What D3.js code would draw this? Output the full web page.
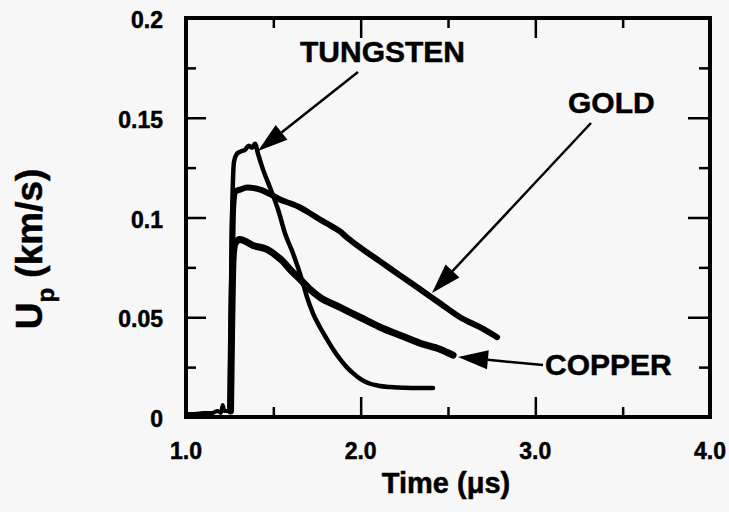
<!DOCTYPE html>
<html>
<head>
  <script src="https://cdnjs.cloudflare.com/ajax/libs/d3/7.8.5/d3.min.js"></script>
  <style>
    body { margin: 0; background: #f7f7f7; }
    text { font-family: "Liberation Sans", Arial, Helvetica, sans-serif; font-weight: bold; fill: #000; stroke: #000; stroke-width: 0.5px; }
  </style>
</head>
<body>
<div id="chart"></div>
<script>
  // values (time in µs, Up in km/s)
  var baseT = [1.0, 1.05, 1.1, 1.15, 1.18, 1.2, 1.21, 1.22, 1.24, 1.255];
  var baseV = [0.0015, 0.0015, 0.002, 0.002, 0.003, 0.002, 0.006, 0.003, 0.003, 0.003];

  var tungT = [1.255, 1.262, 1.275, 1.292, 1.31, 1.338, 1.36, 1.378, 1.395, 1.412, 1.441, 1.481, 1.527, 1.567, 1.613, 1.67, 1.693, 1.727, 1.767, 1.807, 1.842, 1.882, 1.92, 1.956, 2.0, 2.05, 2.1, 2.17, 2.25, 2.33, 2.414];
  var tungV = [0.003, 0.09, 0.128, 0.132, 0.133, 0.134, 0.136, 0.135, 0.137, 0.132, 0.124, 0.115, 0.104, 0.092, 0.082, 0.067, 0.06, 0.052, 0.045, 0.039, 0.034, 0.029, 0.025, 0.022, 0.019, 0.0168, 0.0157, 0.015, 0.0146, 0.0145, 0.0145];

  var goldT = [1.255, 1.27, 1.281, 1.31, 1.349, 1.424, 1.498, 1.538, 1.6, 1.653, 1.693, 1.767, 1.807, 1.882, 1.922, 1.996, 2.111, 2.225, 2.34, 2.454, 2.569, 2.683, 2.781];
  var goldV = [0.003, 0.105, 0.113, 0.114, 0.115, 0.114, 0.111, 0.109, 0.107, 0.105, 0.103, 0.099, 0.097, 0.093, 0.09, 0.085, 0.078, 0.071, 0.064, 0.057, 0.05, 0.045, 0.04];

  var copT = [1.255, 1.27, 1.281, 1.309, 1.384, 1.464, 1.515, 1.555, 1.595, 1.653, 1.71, 1.767, 1.882, 1.996, 2.111, 2.225, 2.34, 2.454, 2.529];
  var copV = [0.003, 0.08, 0.087, 0.089, 0.086, 0.084, 0.081, 0.078, 0.074, 0.069, 0.064, 0.060, 0.055, 0.05, 0.045, 0.041, 0.037, 0.034, 0.031];

  var xMajor = [1, 2, 3, 4];
  var xMinor = [1.5, 2.5, 3.5];
  var xLabels = ["1.0", "2.0", "3.0", "4.0"];
  var yMajor = [0, 0.05, 0.1, 0.15, 0.2];
  var yMinor = [0.025, 0.075, 0.125, 0.175];
  var yLabels = ["0", "0.05", "0.1", "0.15", "0.2"];

  var W = 729, H = 512;
  var pLeft = 186, pRight = 710, pTop = 18, pBottom = 417;

  var svg = d3.select("#chart").append("svg")
    .attr("width", W)
    .attr("height", H);

  var x = d3.scaleLinear().domain([1, 4]).range([pLeft, pRight]);
  var y = d3.scaleLinear().domain([0, 0.2]).range([pBottom, pTop]);

  // inward ticks on all four sides
  function tickAxis(axis, pos, vals, len) {
    var g = svg.append("g")
      .attr("transform", pos)
      .call(axis.tickValues(vals).tickSize(len).tickFormat(""));
    g.select(".domain").remove();
    g.selectAll("line").attr("stroke", "#000").attr("stroke-width", 2.5);
  }
  tickAxis(d3.axisBottom(x), "translate(0," + pBottom + ")", [2, 3], -20);
  tickAxis(d3.axisBottom(x), "translate(0," + pBottom + ")", xMinor, -10);
  tickAxis(d3.axisTop(x), "translate(0," + pTop + ")", [2, 3], -20);
  tickAxis(d3.axisTop(x), "translate(0," + pTop + ")", xMinor, -10);
  tickAxis(d3.axisLeft(y), "translate(" + pLeft + ",0)", [0.05, 0.1, 0.15], -20);
  tickAxis(d3.axisLeft(y), "translate(" + pLeft + ",0)", yMinor, -10);
  tickAxis(d3.axisRight(y), "translate(" + pRight + ",0)", [0.05, 0.1, 0.15], -22);
  tickAxis(d3.axisRight(y), "translate(" + pRight + ",0)", yMinor, -11);

  // data traces
  var line = d3.line()
    .curve(d3.curveMonotoneX)
    .x(function(d) { return x(d[0]); })
    .y(function(d) { return y(d[1]); });

  function trace(ts, vs, w) {
    svg.append("path")
      .datum(d3.zip(ts, vs))
      .attr("d", line)
      .attr("fill", "none")
      .attr("stroke", "#000")
      .attr("stroke-width", w)
      .attr("stroke-linejoin", "round")
      .attr("stroke-linecap", "round");
  }
  trace(baseT, baseV, 4);
  trace(goldT, goldV, 6);
  trace(copT, copV, 7);
  trace(tungT, tungV, 4.5);

  // frame
  svg.append("rect")
    .attr("x", pLeft).attr("y", pTop)
    .attr("width", pRight - pLeft).attr("height", pBottom - pTop)
    .attr("fill", "none").attr("stroke", "#000").attr("stroke-width", 4);

  // tick labels
  svg.selectAll(".xl").data(xMajor).enter().append("text")
    .attr("x", function(d) { return x(d); })
    .attr("y", 459)
    .attr("text-anchor", "middle")
    .style("font-size", "23px")
    .text(function(d, i) { return xLabels[i]; });

  svg.selectAll(".yl").data(yMajor).enter().append("text")
    .attr("x", 163)
    .attr("y", function(d) { return y(d) + 10; })
    .attr("text-anchor", "end")
    .style("font-size", "23px")
    .text(function(d, i) { return yLabels[i]; });

  // axis titles
  svg.append("text")
    .attr("x", 446).attr("y", 493)
    .attr("text-anchor", "middle")
    .style("font-size", "29px")
    .text("Time (\u03bcs)");

  var yt = svg.append("text")
    .attr("transform", "translate(42,249) rotate(-90)")
    .attr("text-anchor", "middle")
    .style("font-size", "37px");
  yt.append("tspan").text("U");
  yt.append("tspan").attr("dy", 12).style("font-size", "24px").text("p");
  yt.append("tspan").attr("dy", -12).text(" (km/s)");

  // labels with arrows
  function arrow(x1, y1, x2, y2) {
    var a = Math.atan2(y2 - y1, x2 - x1), len = 30, half = 9.5;
    var bx = x2 - len * Math.cos(a), by = y2 - len * Math.sin(a);
    svg.append("line")
      .attr("x1", x1).attr("y1", y1).attr("x2", bx).attr("y2", by)
      .attr("stroke", "#000").attr("stroke-width", 2.5);
    var px = -Math.sin(a) * half, py = Math.cos(a) * half;
    svg.append("path")
      .attr("d", "M" + x2 + "," + y2 + "L" + (bx + px) + "," + (by + py) + "L" + (bx - px) + "," + (by - py) + "Z")
      .attr("fill", "#000");
  }

  svg.append("text").attr("x", 300).attr("y", 62).style("font-size", "30px").text("TUNGSTEN");
  arrow(358, 72, 258, 151);

  svg.append("text").attr("x", 568).attr("y", 113).style("font-size", "30px").text("GOLD");
  arrow(591, 123, 432, 293);

  svg.append("text").attr("x", 545).attr("y", 375).style("font-size", "30px").text("COPPER");
  arrow(543, 365, 458, 357);
</script>
</body>
</html>
